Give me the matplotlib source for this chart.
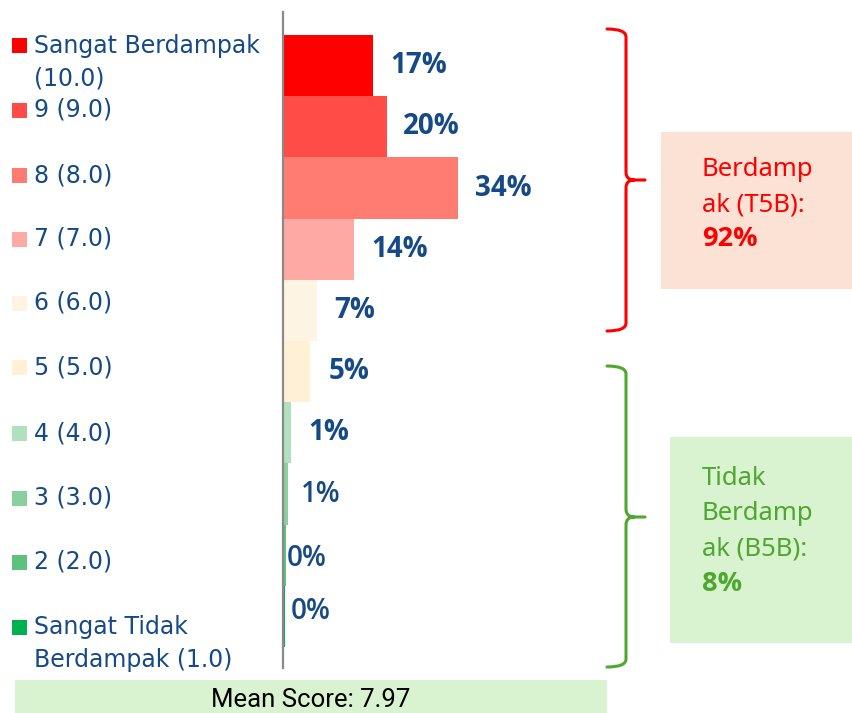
import matplotlib
matplotlib.use("Agg")
import matplotlib.pyplot as plt
from matplotlib.patches import Rectangle, PathPatch
from matplotlib.path import Path

# data (top bar first)
categories = ["Sangat Berdampak\n(10.0)", "9 (9.0)", "8 (8.0)", "7 (7.0)", "6 (6.0)",
              "5 (5.0)", "4 (4.0)", "3 (3.0)", "2 (2.0)", "Sangat Tidak\nBerdampak (1.0)"]
values = [17.4, 20.2, 34.0, 13.8, 6.6, 5.2, 1.5, 0.9, 0.4, 0.3]
value_labels = ["17%", "20%", "34%", "14%", "7%", "5%", "1%", "1%", "0%", "0%"]
t5b_label = "92%"
b5b_label = "8%"
mean_score = 7.97

colors = ["#FF0000", "#FF4C46", "#FF7C73", "#FFA9A4", "#FEF4E3",
          "#FFF0D6", "#B1E0BF", "#8AD09F", "#5CC27D", "#00B050"]
label_weight = ["bold"] * 7 + ["semibold"] * 3
label_pad_px = [17, 16, 17, 17, 17, 18, 17, 13, 1, 6]
label_dy_px = [0, 0, 0, 0, 0, 0, 0, 0, 3, -5]
legend_y_px = [45.5, 110, 175.5, 239, 303, 367, 433, 498, 562, 627]

navy = "#154a86"
red = "#FF0000"
green = "#4EA72E"

W, H = 853, 713
fig = plt.figure(figsize=(W / 100, H / 100), dpi=100)


def fx(x):
    return x / W


def fy(y):
    return 1 - y / H


# bar axes, pixel geometry: axis line at x=283.5, from y=12 to 668
px_per_pct = 5.14
bar_px = 61.2
x0, top, bot = 283.5, 12, 668
ax = fig.add_axes([fx(x0), fy(bot), (W - x0) / W, (bot - top) / H])
n = len(values)
ypos = [n - 1 - i for i in range(n)]
ax.barh(ypos, values, height=1.0, color=colors, edgecolor="none")
ax.set_xlim(0, (W - x0) / px_per_pct)
ax.set_ylim(-0.5 - (bot - 647) / bar_px, n - 0.5 + (35 - top) / bar_px)
for s in ["top", "right", "bottom"]:
    ax.spines[s].set_visible(False)
ax.spines["left"].set_color("#8a8a8a")
ax.spines["left"].set_linewidth(1.6)
ax.set_xticks([])
ax.set_yticks([])
ax.patch.set_alpha(0)

for i in range(n):
    ax.text(values[i] + label_pad_px[i] / px_per_pct, ypos[i] - label_dy_px[i] / bar_px,
            value_labels[i], ha="left", va="center", color=navy,
            fontsize=20, fontweight=label_weight[i], family="Open Sans")

# legend on the left
for i in range(n):
    yc = legend_y_px[i]
    fig.add_artist(Rectangle((fx(12), fy(yc + 7.5)), 15 / W, 15 / H,
                             transform=fig.transFigure, color=colors[i], lw=0))
    for j, line in enumerate(categories[i].split("\n")):
        fig.text(fx(34), fy(yc + 7 + 33 * j), line, ha="left", va="baseline",
                 color=navy, fontsize=17, family="DejaVu Sans")


def brace(x_end, x_v, x_tip, y_top, y_tip, y_bot, color):
    r = 8
    pts = [(x_end, y_top), (x_v, y_top), (x_v, y_top + r), (x_v, y_tip - r),
           (x_v, y_tip), (x_v + r, y_tip), (x_tip, y_tip),
           (x_v + r, y_tip), (x_v, y_tip), (x_v, y_tip + r), (x_v, y_bot - r),
           (x_v, y_bot), (x_end, y_bot)]
    codes = [Path.MOVETO, Path.CURVE3, Path.CURVE3, Path.LINETO,
             Path.CURVE3, Path.CURVE3, Path.LINETO,
             Path.MOVETO, Path.CURVE3, Path.CURVE3, Path.LINETO,
             Path.CURVE3, Path.CURVE3]
    path = Path([(fx(a), fy(b)) for a, b in pts], codes)
    fig.add_artist(PathPatch(path, transform=fig.transFigure, fill=False,
                             edgecolor=color, lw=2.2, capstyle="round"))


brace(607, 626, 645, 29, 180, 331, red)
brace(607, 626, 645, 366, 517, 667, green)

# summary boxes
fig.add_artist(Rectangle((fx(661), fy(289)), (W - 661) / W, (289 - 132) / H,
                         transform=fig.transFigure, color="#FBE2D5", lw=0))
fig.add_artist(Rectangle((fx(670), fy(643)), (W - 670) / W, (643 - 437) / H,
                         transform=fig.transFigure, color="#D9F2D0", lw=0))
fig.add_artist(Rectangle((fx(15), fy(H + 2)), (607 - 15) / W, (H + 2 - 680) / H,
                         transform=fig.transFigure, color="#D9F2D0", lw=0))

for txt, yb, wt in [("Berdamp", 176, "normal"), ("ak (T5B):", 212, "normal"),
                    (t5b_label, 246, "bold")]:
    fig.text(fx(702), fy(yb), txt, ha="left", va="baseline", color=red,
             fontsize=19.5 if wt == "bold" else 18.5, fontweight=wt,
             family="Open Sans" if wt == "bold" else "Noto Sans")
for txt, yb, wt in [("Tidak", 485, "normal"), ("Berdamp", 520, "normal"),
                    ("ak (B5B):", 556, "normal"), (b5b_label, 591, "bold")]:
    fig.text(fx(702), fy(yb), txt, ha="left", va="baseline", color=green,
             fontsize=19.5 if wt == "bold" else 18.5, fontweight=wt,
             family="Open Sans" if wt == "bold" else "Noto Sans")

fig.text(fx(311), fy(707), f"Mean Score: {mean_score:.2f}", ha="center", va="baseline",
         color="black", fontsize=18.5, family="Roboto")

fig.savefig("out.png", dpi=100)
